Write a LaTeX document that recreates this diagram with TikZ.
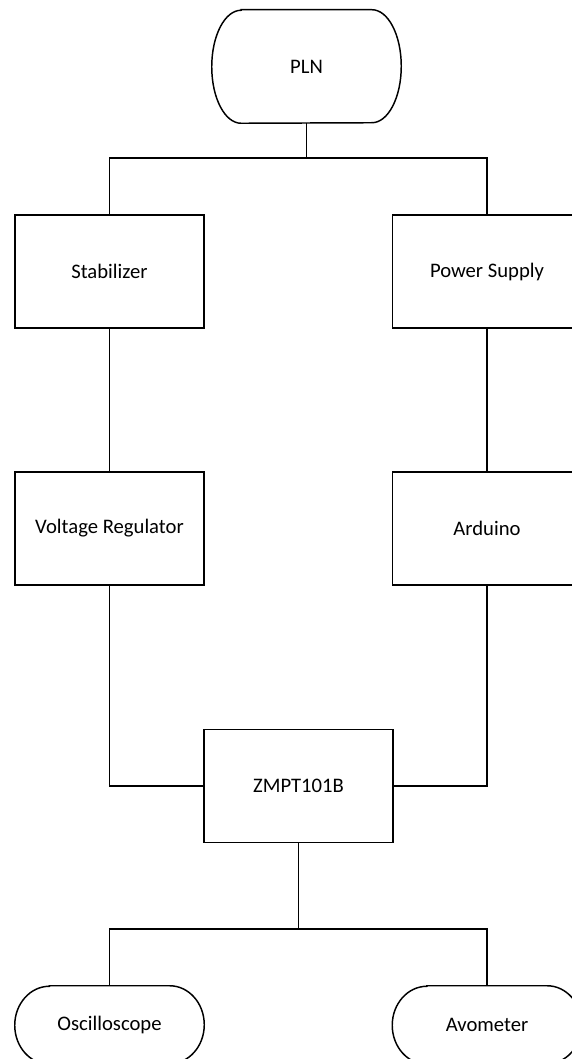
\documentclass[tikz,border=0pt]{standalone}
\usepackage{fontspec}
\setmainfont{Carlito}
\tikzset{
  blok/.style={draw, line width=1.1pt, minimum width=141.75pt, minimum height=84.75pt, inner sep=0pt},
  ujung/.style={minimum width=141.75pt, minimum height=84.75pt, inner sep=0pt},
  ujungpendek/.style={ujung, minimum height=58.5pt},
  garis/.style={line width=1.1pt}
}
\begin{document}
\begin{tikzpicture}[x=0.75pt, y=-0.75pt, font=\fontsize{15.5}{18}\selectfont]
      \useasboundingbox (0,0) rectangle (571,1059);
      \draw
        (306.5,66.5) node[ujung] (pln){PLN}
        (109.5,271.5) node[blok] (stab){Stabilizer}
        (487,271.5) node[blok] (psu){Power Supply}
        (109.5,528.5) node[blok] (vr){Voltage Regulator}
        (487,528.5) node[blok] (ard){Arduino}
        (298.5,786) node[blok] (zmpt){ZMPT101B}
        (109.5,1025) node[ujungpendek] (osc){Oscilloscope}
        (487,1025) node[ujungpendek] (avo){Avometer};
      \coordinate (j1) at (306.5,158);
      \coordinate (j2) at (298.5,929);
      % terminator outlines
      \foreach \n/\rx/\ry in {pln/22pt/42.375pt, osc/26pt/29.25pt, avo/26pt/29.25pt}
        \draw[garis] ([xshift=\rx]\n.north west) -- ([xshift=-\rx]\n.north east)
          arc[start angle=90, end angle=-90, x radius=\rx, y radius=\ry]
          -- ([xshift=\rx]\n.south west)
          arc[start angle=270, end angle=90, x radius=\rx, y radius=\ry] -- cycle;
      \begin{scope}[garis]
        \draw (pln) -- (j1);
        \draw (stab.north) |- (j1) -| (psu.north);
        \draw (stab) -- (vr);
        \draw (psu) -- (ard);
        \draw (vr.south) |- (zmpt.west);
        \draw (ard.south) |- (zmpt.east);
        \draw (zmpt) -- (j2);
        \draw (osc.north) |- (j2) -| (avo.north);
      \end{scope}
    \end{tikzpicture}
\end{document}
